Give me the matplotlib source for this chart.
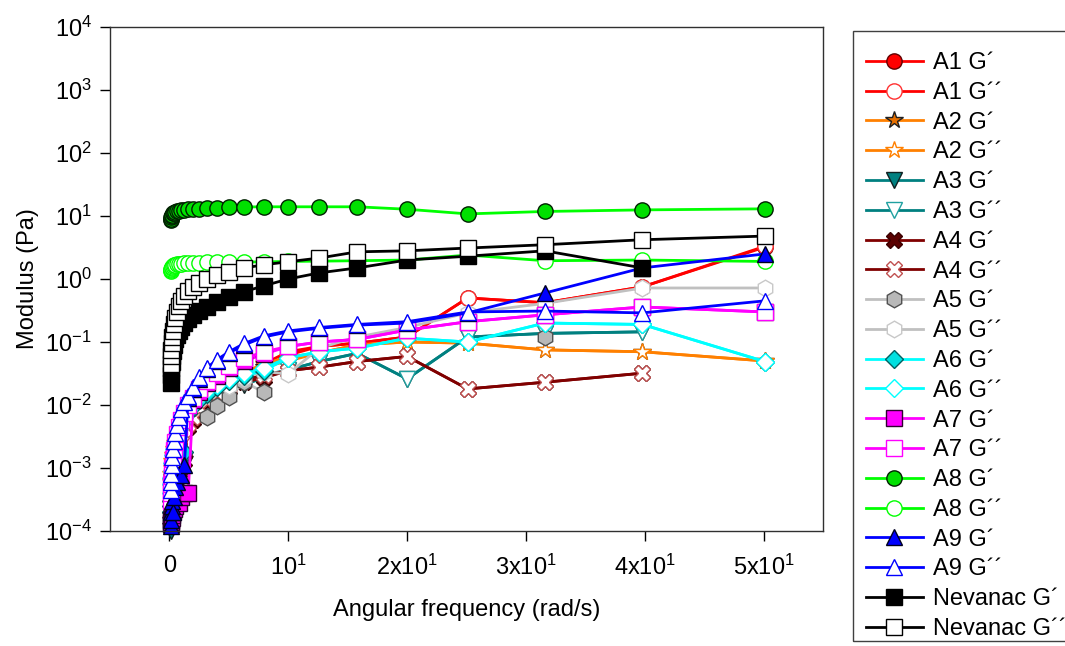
import numpy as np
import matplotlib
matplotlib.use("Agg")
import matplotlib.pyplot as plt
from matplotlib.patches import Rectangle

plt.rcParams["font.family"] = ["Liberation Sans", "DejaVu Sans"]
plt.rcParams["mathtext.fontset"] = "custom"
plt.rcParams["mathtext.rm"] = "Liberation Sans"
plt.rcParams["mathtext.it"] = "Liberation Sans:italic"
plt.rcParams["mathtext.bf"] = "Liberation Sans:bold"

nan = np.nan

# Angular frequency sweep (rad/s)
freq = [0.1, 0.126, 0.158, 0.2, 0.251, 0.316, 0.398, 0.501, 0.631, 0.794,
        1.0, 1.26, 1.58, 2.0, 2.51, 3.16, 3.98, 5.01, 6.31, 7.94,
        10.0, 12.6, 15.8, 20.0, 25.1, 31.6, 39.8, 50.1]

# Storage (G') and loss (G'') moduli, Pa
a1_gp = [0.00015, 0.00018, 0.0002, 0.00025, 0.0003, 0.0004, 0.0005, 0.0006, 0.0008, 0.001,
         0.0013, 0.0016, 0.006, 0.0075, 0.0095, 0.012, 0.016, 0.021, 0.028, 0.04,
         0.062, 0.085, 0.096, 0.12, 0.5, 0.42, 0.75, 3.2]
a1_gpp = [0.0004, 0.0005, 0.0007, 0.0009, 0.0012, 0.0015, 0.0019, 0.0024, 0.003, 0.0037,
          0.0045, 0.0055, 0.0068, 0.0085, 0.011, 0.014, 0.018, 0.024, 0.032, 0.045,
          0.07, 0.085, 0.096, 0.12, 0.5, 0.42, 0.75, 3.3]
a2_gp = [0.00012, 0.00015, 0.00018, 0.00022, 0.00028, 0.00035, 0.00045, 0.00055, 0.0007, 0.0009,
         0.0011, 0.0014, 0.0065, 0.008, 0.01, 0.013, 0.017, 0.022, 0.029, 0.04,
         0.05, 0.067, 0.09, 0.1, 0.096, 0.075, 0.07, 0.05]
a2_gpp = [0.0005, 0.0006, 0.0008, 0.001, 0.0013, 0.0016, 0.002, 0.0025, 0.0031, 0.0038,
          0.0047, 0.0058, 0.0072, 0.009, 0.0115, 0.0145, 0.019, 0.025, 0.033, 0.045,
          0.058, 0.067, 0.09, 0.1, 0.096, 0.075, 0.07, 0.05]
a3_gp = [0.0001, 0.00012, 0.00015, 0.00018, 0.00022, 0.00028, 0.00035, 0.00045, 0.00055, 0.0007,
         0.0009, 0.0011, 0.0052, 0.0065, 0.008, 0.01, 0.013, 0.017, 0.021, 0.027,
         0.036, 0.049, 0.066, 0.026, 0.12, 0.137, 0.145, nan]
a3_gpp = [0.0004, 0.0005, 0.0006, 0.0008, 0.001, 0.0013, 0.0016, 0.002, 0.0025, 0.0031,
          0.0038, 0.0047, 0.0058, 0.0072, 0.009, 0.0115, 0.0145, 0.019, 0.024, 0.03,
          0.036, 0.049, 0.066, 0.026, 0.12, 0.137, 0.145, nan]
a4_gp = [0.00013, 0.00016, 0.0002, 0.00024, 0.0003, 0.00036, 0.00045, 0.00055, 0.0007, 0.00085,
         0.001, 0.0013, 0.0045, 0.0058, 0.008, 0.011, 0.0145, 0.018, 0.023, 0.027,
         0.035, 0.04, 0.049, 0.059, 0.018, 0.023, 0.032, nan]
a4_gpp = [0.0005, 0.0006, 0.0007, 0.0009, 0.0011, 0.0013, 0.0016, 0.002, 0.0024, 0.003,
          0.0035, 0.0042, 0.005, 0.0065, 0.009, 0.012, 0.016, 0.02, 0.025, 0.03,
          0.035, 0.04, 0.049, 0.059, 0.018, 0.023, 0.032, nan]
a5_gp = [nan, nan, nan, nan, nan, nan, nan, nan, nan, nan,
         nan, nan, nan, nan, nan, 0.0065, 0.0095, 0.0135, 0.023, 0.016,
         nan, nan, nan, nan, nan, 0.12, nan, nan]
a5_gpp = [nan, nan, nan, nan, nan, nan, nan, nan, nan, nan,
          nan, nan, nan, nan, nan, nan, nan, 0.02, 0.027, 0.034,
          0.031, 0.08, 0.12, 0.17, 0.29, 0.41, 0.72, 0.72]
a6_gp = [0.0002, 0.00025, 0.0003, 0.0004, 0.0005, 0.0006, 0.0007, 0.0009, 0.0011, 0.0013,
         0.0015, 0.0018, 0.0075, 0.0095, 0.012, 0.015, 0.019, 0.024, 0.029, 0.035,
         0.056, 0.07, 0.08, 0.115, 0.1, 0.2, 0.19, 0.049]
a6_gpp = [0.0004, 0.00055, 0.0007, 0.0009, 0.0012, 0.0016, 0.002, 0.0026, 0.0033, 0.0042,
          0.0052, 0.0065, 0.0082, 0.0105, 0.0135, 0.017, 0.021, 0.026, 0.032, 0.039,
          0.056, 0.07, 0.08, 0.115, 0.1, 0.2, 0.19, 0.049]
a7_gp = [0.00013, 0.00014, 0.00015, 0.00016, 0.00018, 0.0002, 0.00022, 0.00025, 0.0003, 0.00028,
         0.00035, 0.0004, 0.0004, 0.012, 0.016, 0.022, 0.029, 0.038, 0.05, 0.064,
         0.085, 0.1, 0.11, 0.155, 0.21, 0.27, 0.36, 0.30]
a7_gpp = [0.0003, 0.0004, 0.00055, 0.00075, 0.001, 0.0014, 0.0019, 0.0026, 0.0035, 0.0045,
          0.0058, 0.0075, 0.01, 0.013, 0.018, 0.024, 0.032, 0.042, 0.055, 0.07,
          0.085, 0.1, 0.11, 0.155, 0.21, 0.27, 0.36, 0.30]
a8_gp = [8.5, 9.0, 9.5, 10.0, 10.5, 11.0, 11.3, 11.6, 11.9, 12.1,
         12.3, 12.5, 12.7, 12.9, 13.1, 13.3, 13.5, 13.7, 13.9, 14.0,
         14.0, 14.0, 14.0, 12.8, 10.8, 11.8, 12.5, 13.0]
a8_gpp = [1.35, 1.4, 1.45, 1.5, 1.55, 1.6, 1.65, 1.68, 1.7, 1.72,
          1.75, 1.77, 1.8, 1.8, 1.82, 1.83, 1.85, 1.85, 1.86, 1.87,
          1.9, 1.92, 1.95, 2.0, 2.4, 1.95, 2.0, 1.9]
a9_gp = [0.00012, 0.00015, 0.0002, 0.00025, 0.0003, 0.0002, 0.00035, 0.0005, 0.0006, 0.0008,
         0.00078, 0.0011, 0.013, 0.018, 0.026, 0.037, 0.05, 0.067, 0.09, 0.12,
         0.145, 0.165, 0.185, 0.2, 0.29, 0.6, 1.5, 2.5]
a9_gpp = [0.00045, 0.0006, 0.0008, 0.0011, 0.0015, 0.002, 0.0027, 0.0036, 0.0048, 0.0064,
          0.0085, 0.011, 0.014, 0.019, 0.028, 0.039, 0.052, 0.07, 0.095, 0.125,
          0.15, 0.17, 0.19, 0.21, 0.3, 0.31, 0.29, 0.45]
nev_gp = [0.022, 0.03, 0.038, 0.048, 0.06, 0.073, 0.09, 0.11, 0.13, 0.15,
          0.17, 0.2, 0.23, 0.27, 0.31, 0.36, 0.43, 0.52, 0.63, 0.78,
          1.0, 1.25, 1.5, 2.0, 2.3, 2.8, 1.5, nan]
nev_gpp = [0.045, 0.06, 0.075, 0.095, 0.12, 0.15, 0.19, 0.24, 0.3, 0.37,
           0.45, 0.54, 0.64, 0.75, 0.87, 1.0, 1.15, 1.3, 1.5, 1.68,
           1.88, 2.15, 2.7, 2.8, 3.1, 3.5, 4.2, 4.8]

sample_names = ["A1", "A2", "A3", "A4", "A5", "A6", "A7", "A8", "A9", "Nevanac"]

x_ticks = [0, 10, 20, 30, 40, 50]
x_tick_labels = ["0", "10$^1$", "2x10$^1$", "3x10$^1$", "4x10$^1$", "5x10$^1$"]
y_ticks = [1e-4, 1e-3, 1e-2, 1e-1, 1e0, 1e1, 1e2, 1e3, 1e4]
y_tick_labels = ["10$^{-4}$", "10$^{-3}$", "10$^{-2}$", "10$^{-1}$", "10$^{0}$",
                 "10$^{1}$", "10$^{2}$", "10$^{3}$", "10$^{4}$"]

# per-sample styling: line colour, marker, G' face, G' edge, G'' edge, marker size
styles = {
    "A1": ("#FF0000", "o", "#FF0000", "#600000", "#FF3030", 11),
    "A2": ("#FF8000", "*", "#E87000", "#202020", "#FF8000", 13),
    "A3": ("#008080", "v", "#008080", "#102020", "#20A0A0", 11),
    "A4": ("#800000", "X", "#5A0000", "#3A0000", "#C05050", 11),
    "A5": ("#C0C0C0", "h", "#B8B8B8", "#505050", "#C8C8C8", 12),
    "A6": ("#00FFFF", "D", "#00E0E0", "#006060", "#00FFFF", 9),
    "A7": ("#FF00FF", "s", "#FF00FF", "#300030", "#FF00FF", 11),
    "A8": ("#00FF00", "o", "#00E000", "#002000", "#00FF00", 11),
    "A9": ("#0000FF", "^", "#0000FF", "#000020", "#0000FF", 11),
    "Nevanac": ("#000000", "s", "#000000", "#000000", "#000000", 11),
}
series = {
    "A1": (a1_gp, a1_gpp), "A2": (a2_gp, a2_gpp), "A3": (a3_gp, a3_gpp),
    "A4": (a4_gp, a4_gpp), "A5": (a5_gp, a5_gpp), "A6": (a6_gp, a6_gpp),
    "A7": (a7_gp, a7_gpp), "A8": (a8_gp, a8_gpp), "A9": (a9_gp, a9_gpp),
    "Nevanac": (nev_gp, nev_gpp),
}

fig = plt.figure(figsize=(10.65, 6.46), dpi=100)
ax = fig.add_axes([110 / 1065, 1 - 531 / 646, (823 - 110) / 1065, (531 - 27) / 646])

handles = []
for name in sample_names:
    lc, mk, fc, ec, ec2, ms = styles[name]
    gp, gpp = series[name]
    h1, = ax.plot(freq, gp, color=lc, lw=2.0, marker=mk, ms=ms, mfc=fc, mec=ec,
                  mew=1.0, clip_on=False, label=f"{name} G\u00b4")
    h2, = ax.plot(freq, gpp, color=lc, lw=2.0, marker=mk, ms=ms, mfc="white", mec=ec2,
                  mew=1.0, clip_on=False, label=f"{name} G\u00b4\u00b4")
    handles += [h1, h2]

ax.set_yscale("log")
ax.set_xlim(-5, 55)
ax.set_ylim(1e-4, 1e4)
ax.set_xticks(x_ticks)
ax.set_xticklabels(x_tick_labels)
ax.set_yticks(y_ticks)
ax.set_yticklabels(y_tick_labels)
ax.minorticks_off()
ax.tick_params(axis="both", direction="out", length=7, width=1, labelsize=17,
               pad=6, top=False, right=False)
ax.tick_params(axis="x", pad=10)
for sp in ax.spines.values():
    sp.set_linewidth(1.0)
    sp.set_color("#303030")

ax.set_xlabel("Angular frequency (rad/s)", fontsize=17, labelpad=14)
ax.set_ylabel("Modulus (Pa)", fontsize=17, labelpad=4)

# legend entries, with the box drawn as a separate frame running off the right edge
leg = fig.legend(handles=handles, loc="upper left",
                 bbox_to_anchor=(845 / 1065, 1 - 31 / 646), bbox_transform=fig.transFigure,
                 fontsize=17, frameon=False, borderaxespad=0,
                 handlelength=2.4, handletextpad=0.45, labelspacing=0.33,
                 borderpad=0.89, numpoints=1)
for line in leg.get_lines():
    line.set_linewidth(2.0)
fig.patches.append(Rectangle((853 / 1065, 1 - 641 / 646), (1100 - 853) / 1065,
                             (641 - 31) / 646, transform=fig.transFigure,
                             fill=False, edgecolor="#404040", linewidth=1.0))

fig.savefig("out.png", dpi=100)
